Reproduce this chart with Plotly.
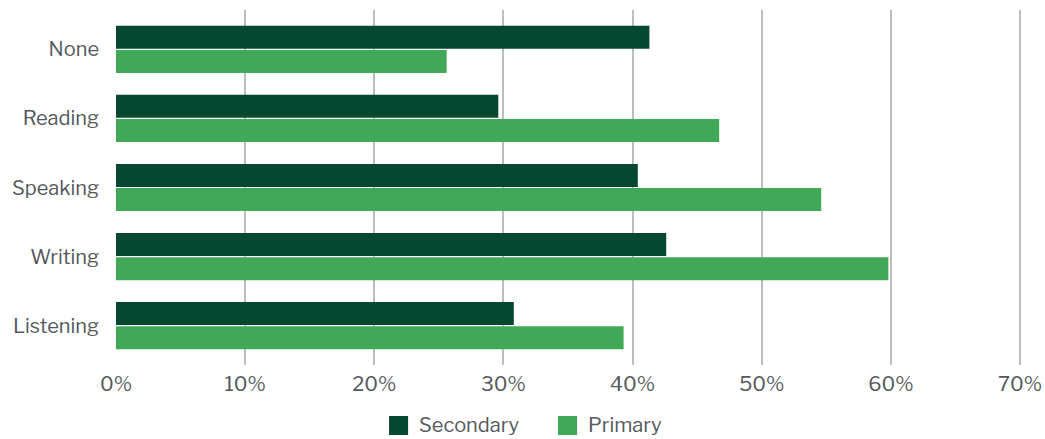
import plotly.graph_objects as go

# Skill areas, top to bottom
categories = ["None", "Reading", "Speaking", "Writing", "Listening"]

# Share of respondents (%)
secondary = [41.3, 29.6, 40.4, 42.6, 30.8]
primary = [25.6, 46.7, 54.6, 59.8, 39.3]

x_ticks = [0, 10, 20, 30, 40, 50, 60, 70]
x_tick_labels = ["0%", "10%", "20%", "30%", "40%", "50%", "60%", "70%"]

series = [
    ("Secondary", secondary, "#064832"),
    ("Primary", primary, "#41A857"),
]

FONT = "Libre Franklin, Roboto, Open Sans, sans-serif"
TEXT_COLOR = "#55585c"
FONT_SIZE = 20

fig = go.Figure()
for name, values, color in series:
    fig.add_trace(go.Bar(
        y=categories,
        x=values,
        name=name,
        orientation="h",
        marker=dict(color=color, line=dict(width=0)),
        showlegend=False,
    ))

# Custom legend below the axis: square swatch + label for each series
legend_y = -0.1704
legend_x = [0.3007, 0.4868]
for (name, _, color), lx in zip(series, legend_x):
    fig.add_shape(
        type="rect", xref="paper", yref="paper",
        x0=lx, x1=lx + 0.021, y0=legend_y - 0.0268, y1=legend_y + 0.0268,
        fillcolor=color, line=dict(width=0),
    )
    fig.add_annotation(
        xref="paper", yref="paper", x=lx + 0.031, y=legend_y,
        text=name, showarrow=False, xanchor="left", yanchor="middle",
        font=dict(size=FONT_SIZE, color=TEXT_COLOR, family=FONT),
    )

fig.update_layout(
    width=1045,
    height=439,
    margin=dict(l=116, r=21, t=10, b=74),
    paper_bgcolor="white",
    plot_bgcolor="white",
    barmode="group",
    bargap=0.3,
    bargroupgap=0.05,
    font=dict(family=FONT, size=FONT_SIZE, color=TEXT_COLOR),
)
fig.update_xaxes(
    range=[0, 70.3],
    tickvals=x_ticks,
    ticktext=x_tick_labels,
    showgrid=True,
    gridcolor="#bdbdbd",
    gridwidth=2,
    zeroline=False,
    showline=False,
    ticks="",
    automargin=False,
    ticklabeloverflow="allow",
    tickfont=dict(size=FONT_SIZE, color=TEXT_COLOR),
    ticklabelstandoff=5,
)
fig.update_yaxes(
    categoryorder="array",
    categoryarray=categories,
    range=[4.57, -0.57],
    showgrid=False,
    zeroline=False,
    showline=False,
    ticks="",
    tickfont=dict(size=FONT_SIZE, color=TEXT_COLOR),
    ticklabelstandoff=16,
)

fig.write_html("out.html")
